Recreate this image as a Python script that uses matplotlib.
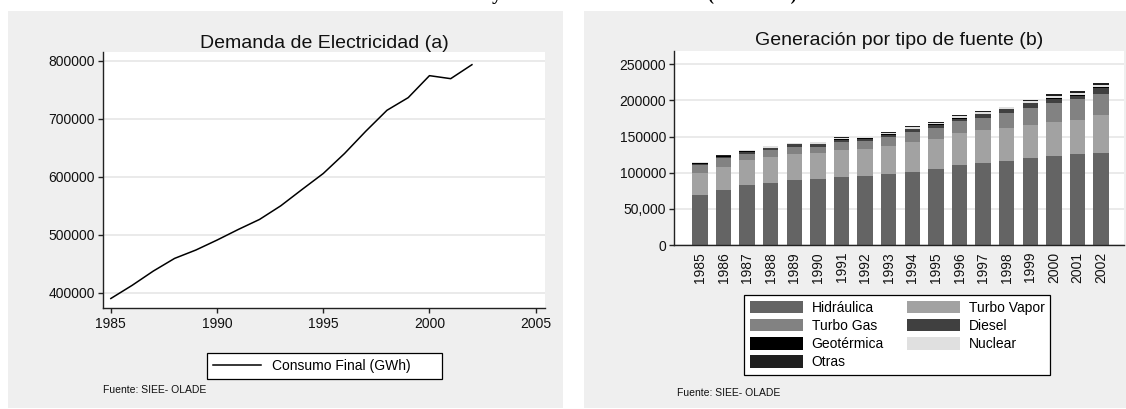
import matplotlib
matplotlib.use("Agg")
import matplotlib.pyplot as plt
from matplotlib.patches import Rectangle
from matplotlib.lines import Line2D
from matplotlib.ticker import FixedLocator

plt.rcParams['font.family'] = ['Liberation Sans', 'DejaVu Sans']

# ---- Data -------------------------------------------------------------
years = list(range(1985, 2003))

# Final electricity consumption (GWh)
consumo_final = [390000, 412600, 437300, 459100, 473500, 490700, 509000,
                 526300, 549800, 577900, 605500, 639900, 678300, 714500,
                 736300, 774200, 769000, 793100]

# Generation by source (GWh), stacked in this order
hidraulica = [69000, 75600, 82600, 86300, 90000, 91400, 94200, 96000, 98800,
              101600, 105300, 110900, 114100, 116500, 119700, 123000, 125300, 127600]
turbo_vapor = [31000, 32500, 34300, 35300, 35700, 35700, 37100, 36700, 37600,
               40800, 41300, 44100, 44600, 45900, 46900, 47300, 47800, 52400]
turbo_gas = [10000, 11600, 8800, 9700, 9300, 8900, 11600, 11600, 13500,
             14400, 15300, 16200, 17600, 20000, 23600, 26400, 28700, 29300]
diesel = [2500, 2000, 2800, 2800, 4200, 3700, 2800, 2800, 2800,
          3300, 4700, 3700, 4700, 5100, 5600, 5600, 4200, 7400]
geotermica = [1000, 1000, 900, 600, 400, 500, 400, 500, 1000,
              1000, 900, 900, 900, 900, 900, 900, 1000, 1400]
nuclear = [1500, 1000, 1500, 2300, 1600, 1800, 2500, 1400, 1500,
           2500, 1700, 2000, 2300, 2300, 2000, 3200, 3500, 2800]
otras = [500, 500, 400, 300, 300, 400, 300, 400, 700,
         1100, 1100, 1800, 1400, 900, 1300, 2400, 2500, 2700]

series = [
    ("Hidráulica", hidraulica, "#646464"),
    ("Turbo Vapor", turbo_vapor, "#a2a2a2"),
    ("Turbo Gas", turbo_gas, "#828282"),
    ("Diesel", diesel, "#404040"),
    ("Geotérmica", geotermica, "#000000"),
    ("Nuclear", nuclear, "#e0e0e0"),
    ("Otras", otras, "#1f1f1f"),
]
# Legend reads row by row across two columns; matplotlib fills by column,
# so list the first column (4 entries) then the second (3 entries).
legend_order = ["Hidráulica", "Turbo Gas", "Geotérmica", "Otras",
                "Turbo Vapor", "Diesel", "Nuclear"]

left_yticks = [400000, 500000, 600000, 700000, 800000]
left_xticks = [1985, 1990, 1995, 2000, 2005]
right_yticks = [0, 50000, 100000, 150000, 200000, 250000]
right_ytick_labels = ["0", "50,000", "100000", "150000", "200000", "250000"]

# ---- Figure -----------------------------------------------------------
W, H = 1126, 409
fig = plt.figure(figsize=(W / 100, H / 100), dpi=100)
fig.patch.set_facecolor("white")


def fx(px):
    return px / W


def fy(py):
    return 1 - py / H


PANEL = "#efefef"
AXC = "#222222"
GRID = "#e6e6e6"

# Panel backgrounds
fig.patches.append(Rectangle((fx(8), fy(408)), fx(563) - fx(8), fy(11) - fy(408),
                             transform=fig.transFigure, facecolor=PANEL,
                             edgecolor="none", zorder=-10))
fig.patches.append(Rectangle((fx(584), fy(408)), fx(1126) - fx(584), fy(11) - fy(408),
                             transform=fig.transFigure, facecolor=PANEL,
                             edgecolor="none", zorder=-10))

# Caption of the page above, cut off at the top edge
fig.text(fx(497), 1.0 + 0.5 / H, "y", family="Liberation Serif",
         fontweight="bold", fontsize=14, ha="center", va="baseline")
fig.text(fx(752), 1.0 + 0.5 / H, "(1985-2002)", family="Liberation Serif",
         fontweight="bold", fontsize=13, ha="center", va="baseline")


def style_axes(ax):
    ax.set_facecolor("white")
    for s in ("top", "right"):
        ax.spines[s].set_visible(False)
    for s in ("left", "bottom"):
        ax.spines[s].set_color(AXC)
        ax.spines[s].set_linewidth(1.0)
    ax.tick_params(colors=AXC, labelcolor="#111111", labelsize=10,
                   width=1.0, length=3.6, direction="out")
    ax.yaxis.grid(True, color=GRID, linewidth=1.2)
    ax.set_axisbelow(True)


# ---- Left: electricity demand -------------------------------------------
ax1 = fig.add_axes([fx(103), fy(307.7), fx(545) - fx(103), fy(51.7) - fy(307.7)])
style_axes(ax1)
ax1.plot(years, consumo_final, color="black", linewidth=1.1)
ax1.set_xlim(1984.63, 2005.44)
ax1.set_ylim(374100, 815500)
ax1.set_xticks(left_xticks)
ax1.set_yticks(left_yticks)
ax1.set_yticklabels([str(v) for v in left_yticks])
ax1.tick_params(axis="x", pad=3)
ax1.tick_params(axis="y", pad=2)
ax1.set_title("Demanda de Electricidad (a)", fontsize=14, pad=3, color="#111111")

leg1 = ax1.legend([Line2D([0], [0], color="black", linewidth=1.1)],
                  ["Consumo Final (GWh)"], loc="center", mode="expand",
                  bbox_to_anchor=(fx(207), fy(379), fx(442) - fx(207), fy(353) - fy(379)),
                  bbox_transform=fig.transFigure, fontsize=10, frameon=True,
                  fancybox=False, borderpad=0.4, handlelength=3.5,
                  handletextpad=0.75, borderaxespad=0)
leg1.get_frame().set_edgecolor("black")
leg1.get_frame().set_linewidth(0.9)
leg1.get_frame().set_facecolor("white")
leg1.get_frame().set_alpha(1)

fig.text(fx(103), fy(390), "Fuente: SIEE- OLADE", fontsize=7.5, va="center",
         ha="left", color="#111111")

# ---- Right: generation by source -----------------------------------------
ax2 = fig.add_axes([fx(674), fy(245), fx(1124) - fx(674), fy(50.7) - fy(245)])
style_axes(ax2)
pos = list(range(len(years)))
bottom = [0] * len(years)
handles = {}
for name, vals, col in series:
    b = ax2.bar(pos, vals, width=0.65, bottom=bottom, color=col,
                edgecolor="none", label=name, zorder=2)
    handles[name] = b
    bottom = [a + v for a, v in zip(bottom, vals)]
ax2.set_xlim(-1.1, 17.97)
ax2.set_ylim(0, 268800)
ax2.set_xticks(pos)
ax2.set_xticklabels([str(y) for y in years], rotation=90)
ax2.tick_params(axis="x", length=0, pad=5)
ax2.yaxis.set_major_locator(FixedLocator(right_yticks))
ax2.set_yticklabels(right_ytick_labels)
ax2.tick_params(axis="y", pad=2)
ax2.set_title("Generación por tipo de fuente (b)", fontsize=14, pad=4, color="#111111")

leg2 = ax2.legend([handles[n] for n in legend_order], legend_order, ncol=2,
                  loc="upper left", bbox_to_anchor=(fx(744), fy(295)),
                  bbox_transform=fig.transFigure, fontsize=10, frameon=True,
                  fancybox=False, borderpad=0.42, handlelength=3.8,
                  handleheight=1.0, handletextpad=0.65, columnspacing=1.65,
                  labelspacing=0.3, borderaxespad=0)
leg2.get_frame().set_edgecolor("black")
leg2.get_frame().set_linewidth(0.9)
leg2.get_frame().set_facecolor("white")
leg2.get_frame().set_alpha(1)

fig.text(fx(677), fy(393), "Fuente: SIEE- OLADE", fontsize=7.5, va="center",
         ha="left", color="#111111")

fig.savefig("out.png", dpi=100, facecolor="white")
